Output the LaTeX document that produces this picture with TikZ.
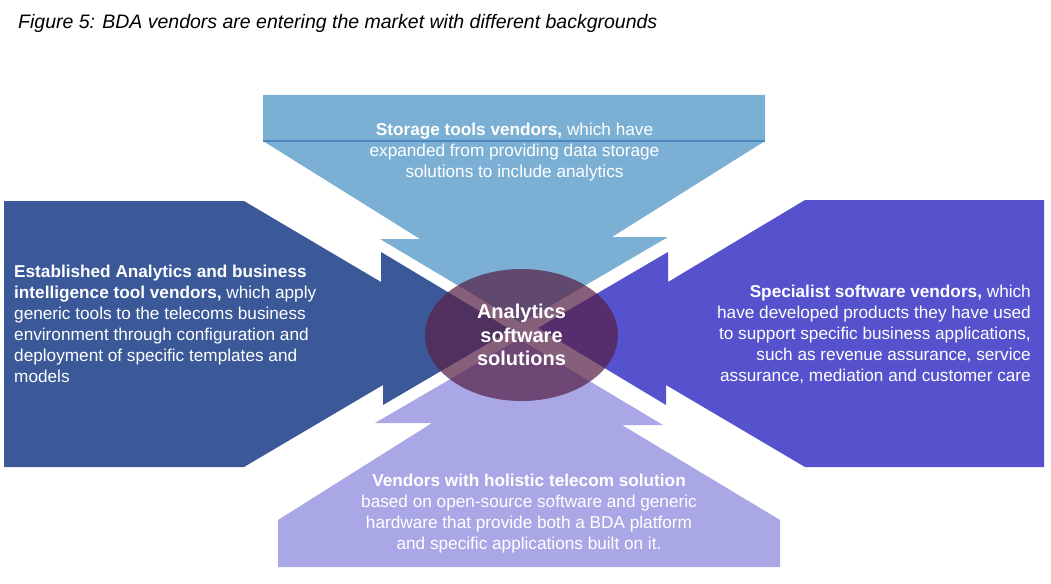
\documentclass[tikz,border=0pt]{standalone}
\usepackage{fontspec}
\setmainfont{Liberation Sans}
\usepackage{xcolor}
\usepackage{tikz}
\usetikzlibrary{shapes.geometric}
\definecolor{storeblue}{RGB}{123,176,212}
\definecolor{storeline}{RGB}{74,137,192}
\definecolor{bidarkblue}{RGB}{59,89,152}
\definecolor{specpurple}{RGB}{86,82,205}
\definecolor{holilav}{RGB}{170,167,230}
\definecolor{hubplum}{RGB}{87,33,72}
\tikzset{vendor/.style = {text=white, inner sep=0pt,
  font=\fontsize{17.2}{21}\selectfont},
  hub/.style = {ellipse, fill=hubplum, fill opacity=0.72, text opacity=1,
  text=white, inner sep=0pt, minimum width=193pt, minimum height=132pt,
  align=center, font=\fontsize{20}{23.5}\selectfont\bfseries}}

\begin{document}
\begin{tikzpicture}[x=1pt,y=-1pt]
  \useasboundingbox (0,0) rectangle (1051,583);
  \node[anchor=west, inner sep=0pt, font=\fontsize{19.5}{23}\selectfont\itshape] (title) at (18,23)
    {Figure 5: BDA vendors are entering the market with different backgrounds};
  \fill[storeblue] (263,95) -- (765,95) -- (765,141) -- (612,237) -- (668,237) -- (521,323)
    -- (380,239) -- (420,239) -- (263,141) -- cycle;
  \draw[storeline, line width=1.5pt] (263,141) -- (765,141);
  \fill[bidarkblue] (4,201) -- (244,201) -- (381,282) -- (381,252) -- (511,330)
    -- (383,405) -- (383,385) -- (244,467) -- (4,467) -- cycle;
  \fill[specpurple] (1044,200) -- (805,200) -- (668,282) -- (668,252) -- (538,328)
    -- (666,405) -- (666,385) -- (805,467) -- (1044,467) -- cycle;
  \fill[holilav] (278,567) -- (278,520) -- (432,423) -- (375,423) -- (519,339)
    -- (663,425) -- (622,425) -- (780,520) -- (780,567) -- cycle;
  \node[hub] (hub) at (521.5,335) {Analytics\\software\\solutions};
  \node[vendor, align=center] (storage) at (514.5,152.5)
    {\textbf{Storage tools vendors,} which have\\expanded from providing data storage\\solutions to include analytics};
  \node[vendor, align=left, anchor=west] (established) at (14,323.5)
    {\textbf{Established Analytics and business}\\\textbf{intelligence tool vendors,} which apply\\generic tools to the telecoms business\\environment through configuration and\\deployment of specific templates and\\models};
  \node[vendor, align=right, anchor=east] (specialist) at (1031,334)
    {\textbf{Specialist software vendors,} which\\have developed products they have used\\to support specific business applications,\\such as revenue assurance, service\\assurance, mediation and customer care};
  \node[vendor, align=center] (holistic) at (529,514)
    {\textbf{Vendors with holistic telecom solution}\\based on open-source software and generic\\hardware that provide both a BDA platform\\and specific applications built on it.};
\end{tikzpicture}
\end{document}
